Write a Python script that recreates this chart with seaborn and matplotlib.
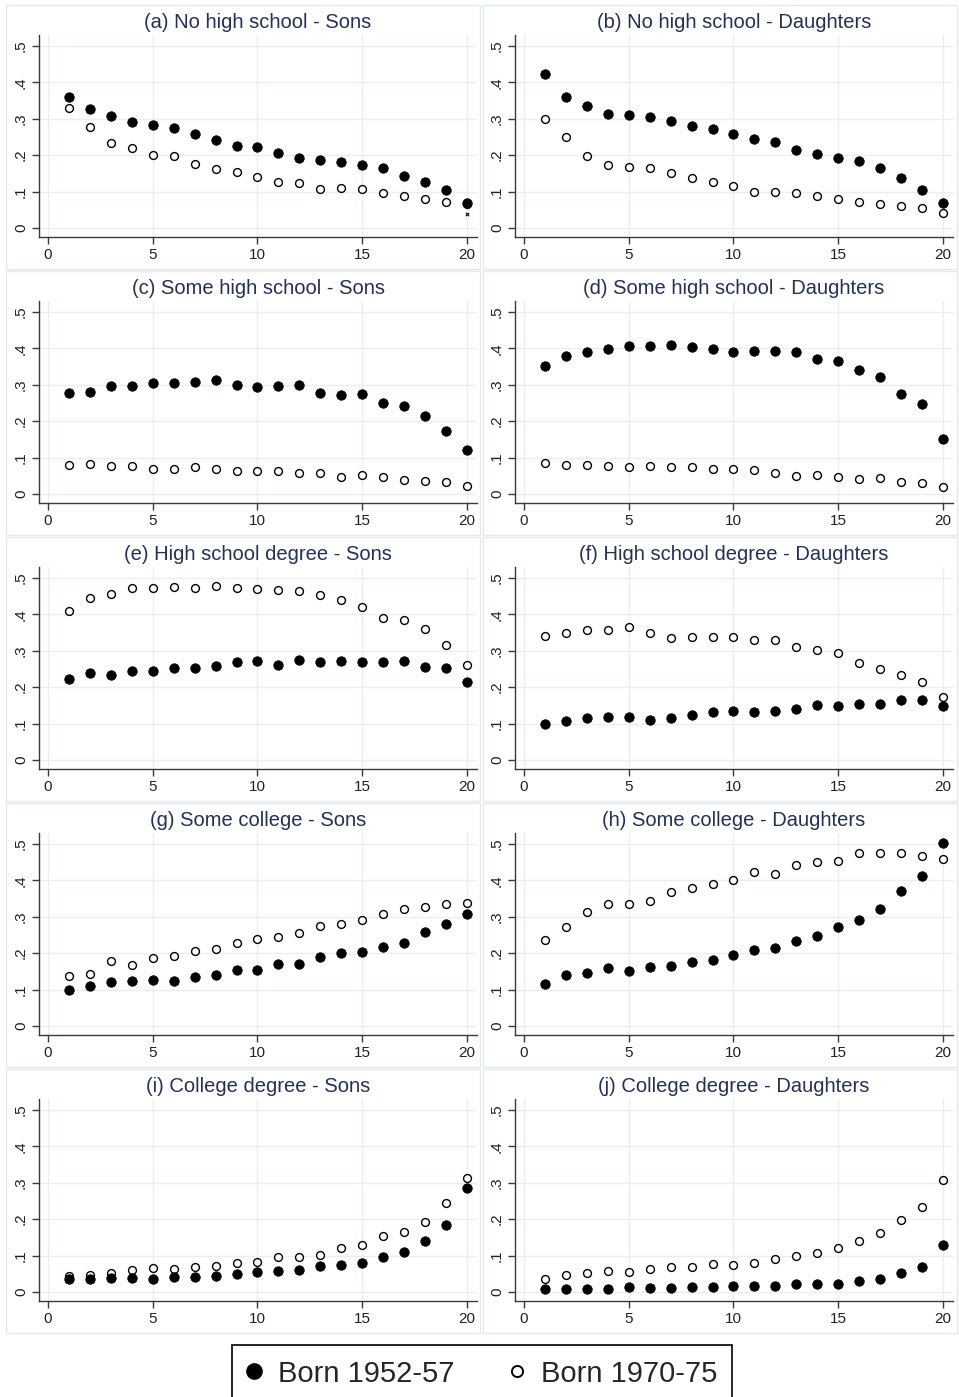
import matplotlib
matplotlib.use("Agg")
import matplotlib.pyplot as plt
from matplotlib.patches import Rectangle
from matplotlib.lines import Line2D
import seaborn as sns
import pandas as pd

# years since start of observation window
years = list(range(1, 21))

titles = [
    "(a) No high school - Sons", "(b) No high school - Daughters",
    "(c) Some high school - Sons", "(d) Some high school - Daughters",
    "(e) High school degree - Sons", "(f) High school degree - Daughters",
    "(g) Some college - Sons", "(h) Some college - Daughters",
    "(i) College degree - Sons", "(j) College degree - Daughters",
]

# filled = born 1952-57, hollow = born 1970-75
a_born52 = [0.359, 0.328, 0.307, 0.291, 0.284, 0.274, 0.258, 0.242, 0.224, 0.222,
            0.207, 0.193, 0.187, 0.180, 0.172, 0.164, 0.143, 0.127, 0.105, 0.068]
a_born70 = [0.330, 0.278, 0.233, 0.220, 0.201, 0.197, 0.175, 0.163, 0.153, 0.140,
            0.127, 0.123, 0.107, 0.109, 0.106, 0.096, 0.087, 0.081, 0.071, 0.065]
b_born52 = [0.423, 0.360, 0.335, 0.313, 0.309, 0.306, 0.294, 0.279, 0.272, 0.258,
            0.245, 0.236, 0.213, 0.204, 0.193, 0.183, 0.166, 0.137, 0.105, 0.068]
b_born70 = [0.298, 0.249, 0.199, 0.174, 0.167, 0.166, 0.151, 0.137, 0.125, 0.114,
            0.100, 0.099, 0.097, 0.088, 0.081, 0.072, 0.066, 0.060, 0.054, 0.041]
c_born52 = [0.278, 0.281, 0.296, 0.297, 0.305, 0.306, 0.307, 0.313, 0.298, 0.295,
            0.297, 0.298, 0.277, 0.271, 0.274, 0.251, 0.243, 0.214, 0.172, 0.122]
c_born70 = [0.079, 0.083, 0.076, 0.078, 0.070, 0.070, 0.074, 0.070, 0.064, 0.064,
            0.063, 0.058, 0.059, 0.048, 0.051, 0.047, 0.039, 0.036, 0.033, 0.021]
d_born52 = [0.351, 0.380, 0.391, 0.397, 0.406, 0.406, 0.410, 0.403, 0.397, 0.391,
            0.392, 0.392, 0.389, 0.372, 0.364, 0.340, 0.320, 0.275, 0.248, 0.151]
d_born70 = [0.085, 0.081, 0.079, 0.077, 0.074, 0.076, 0.074, 0.074, 0.068, 0.069,
            0.066, 0.058, 0.050, 0.052, 0.047, 0.042, 0.043, 0.032, 0.029, 0.019]
e_born52 = [0.223, 0.239, 0.233, 0.244, 0.244, 0.253, 0.254, 0.257, 0.269, 0.271,
            0.262, 0.275, 0.268, 0.273, 0.269, 0.269, 0.271, 0.256, 0.254, 0.213]
e_born70 = [0.408, 0.445, 0.457, 0.471, 0.472, 0.474, 0.473, 0.479, 0.471, 0.470,
            0.467, 0.464, 0.453, 0.439, 0.421, 0.391, 0.385, 0.360, 0.316, 0.260]
f_born52 = [0.099, 0.108, 0.115, 0.119, 0.119, 0.111, 0.115, 0.123, 0.132, 0.134,
            0.133, 0.135, 0.139, 0.151, 0.147, 0.154, 0.154, 0.164, 0.164, 0.147]
f_born70 = [0.340, 0.349, 0.356, 0.356, 0.366, 0.348, 0.336, 0.339, 0.337, 0.338,
            0.330, 0.329, 0.311, 0.303, 0.293, 0.266, 0.251, 0.233, 0.213, 0.172]
g_born52 = [0.099, 0.111, 0.121, 0.123, 0.126, 0.124, 0.135, 0.141, 0.153, 0.155,
            0.170, 0.170, 0.189, 0.200, 0.202, 0.216, 0.227, 0.257, 0.281, 0.308]
g_born70 = [0.138, 0.144, 0.179, 0.167, 0.186, 0.191, 0.207, 0.212, 0.229, 0.240,
            0.245, 0.255, 0.275, 0.281, 0.290, 0.307, 0.320, 0.328, 0.335, 0.339]
h_born52 = [0.116, 0.140, 0.146, 0.158, 0.150, 0.162, 0.166, 0.176, 0.181, 0.196,
            0.210, 0.214, 0.234, 0.248, 0.271, 0.291, 0.322, 0.371, 0.411, 0.502]
h_born70 = [0.236, 0.272, 0.312, 0.334, 0.335, 0.344, 0.368, 0.378, 0.389, 0.400,
            0.422, 0.418, 0.441, 0.449, 0.453, 0.474, 0.475, 0.475, 0.467, 0.459]
i_born52 = [0.036, 0.036, 0.039, 0.039, 0.036, 0.042, 0.042, 0.043, 0.050, 0.056,
            0.058, 0.060, 0.072, 0.073, 0.079, 0.095, 0.110, 0.141, 0.185, 0.285]
i_born70 = [0.043, 0.047, 0.053, 0.060, 0.066, 0.063, 0.068, 0.072, 0.079, 0.083,
            0.095, 0.096, 0.102, 0.120, 0.130, 0.155, 0.164, 0.191, 0.244, 0.312]
j_born52 = [0.007, 0.009, 0.008, 0.009, 0.013, 0.011, 0.011, 0.014, 0.015, 0.016,
            0.016, 0.017, 0.021, 0.021, 0.023, 0.030, 0.035, 0.051, 0.070, 0.130]
j_born70 = [0.037, 0.047, 0.052, 0.057, 0.056, 0.063, 0.068, 0.069, 0.078, 0.075,
            0.079, 0.092, 0.099, 0.107, 0.122, 0.140, 0.163, 0.197, 0.234, 0.308]

# the stray small "x" mark in panel (a)
a_stray_x = [20]
a_stray_y = [0.038]

early = [a_born52, b_born52, c_born52, d_born52, e_born52,
         f_born52, g_born52, h_born52, i_born52, j_born52]
late = [a_born70, b_born70, c_born70, d_born70, e_born70,
        f_born70, g_born70, h_born70, i_born70, j_born70]

x_ticks = [0, 5, 10, 15, 20]
y_ticks = [0, 0.1, 0.2, 0.3, 0.4, 0.5]
y_tick_labels = ["0", ".1", ".2", ".3", ".4", ".5"]

sns.set_style("white")
plt.rcParams["font.family"] = ["Liberation Sans", "DejaVu Sans"]

W, H = 959, 1397
fig = plt.figure(figsize=(W / 100, H / 100), dpi=100)

grid_col = "#E6EFF1"
axis_col = "#3A3A3A"
title_col = "#22305A"

for k in range(10):
    row, col = divmod(k, 2)
    left_px = 39 if col == 0 else 515
    bottom_px = 237 + 266 * row
    top_px = 35 + 266 * row

    # panel frame (graph region outline)
    box_left = 6 if col == 0 else 483
    box_top = 5 + 266 * row
    fig.patches.append(Rectangle((box_left / W, 1 - (box_top + 264) / H),
                                 474 / W, 264 / H, transform=fig.transFigure,
                                 fill=False, edgecolor="#E3EAEC", linewidth=1.0))

    ax = fig.add_axes([left_px / W, 1 - bottom_px / H, 438 / W, (bottom_px - top_px) / H])
    df = pd.DataFrame({"year": years, "early": early[k], "late": late[k]})
    sns.scatterplot(data=df, x="year", y="early", ax=ax, color="black",
                    s=46, edgecolor="black", linewidth=0.6, zorder=3)
    sns.scatterplot(data=df, x="year", y="late", ax=ax, facecolor="white",
                    s=32, edgecolor="black", linewidth=1.0, zorder=2)
    if k == 0:
        ax.scatter(a_stray_x, a_stray_y, marker="x", s=6, color="black", linewidth=0.8, zorder=4)

    ax.set_xlim(-0.43, 20.48)
    ax.set_ylim(-0.0247, 0.530)
    ax.set_xticks(x_ticks)
    ax.set_yticks(y_ticks)
    ax.set_yticklabels(y_tick_labels, rotation=90, va="center")
    ax.grid(True, color=grid_col, linewidth=1.0)
    ax.set_axisbelow(True)
    for side in ["top", "right"]:
        ax.spines[side].set_visible(False)
    for side in ["left", "bottom"]:
        ax.spines[side].set_color(axis_col)
        ax.spines[side].set_linewidth(1.0)
    ax.tick_params(axis="both", direction="out", length=5, width=1.0,
                   color=axis_col, labelsize=11, labelcolor="#222222", pad=3,
                   left=True, bottom=True)
    ax.set_xlabel("")
    ax.set_ylabel("")
    ax.set_title(titles[k], fontsize=14.5, color=title_col, pad=5)

handles = [
    Line2D([], [], linestyle="none", marker="o", markersize=11,
           markerfacecolor="black", markeredgecolor="black"),
    Line2D([], [], linestyle="none", marker="o", markersize=8,
           markerfacecolor="white", markeredgecolor="black", markeredgewidth=1.4),
]
leg = fig.legend(handles, ["Born 1952-57", "Born 1970-75"], loc="upper center",
                 bbox_to_anchor=(482 / W, 1 - 1345 / H), borderaxespad=0, ncol=2,
                 fontsize=21, frameon=True, fancybox=False, edgecolor="black",
                 framealpha=1, handletextpad=0.57, columnspacing=1.9,
                 borderpad=0.5, handlelength=0.5)
leg.get_frame().set_linewidth(1.2)

fig.savefig("out.png", dpi=100, facecolor="white")
plt.close(fig)
